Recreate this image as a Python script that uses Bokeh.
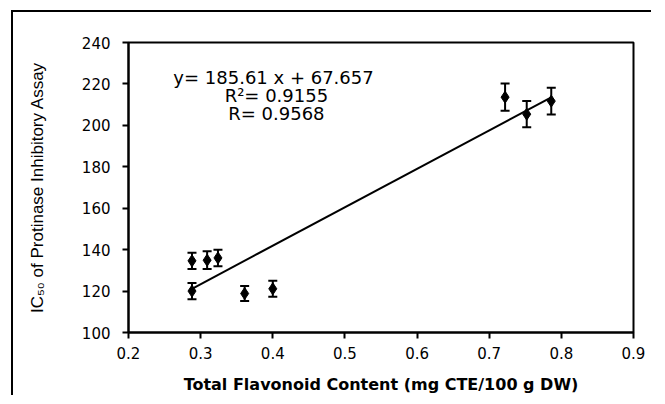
from bokeh.plotting import figure
from bokeh.models import ColumnDataSource, Whisker, FixedTicker, Label
from bokeh.embed import file_html
from bokeh.resources import INLINE

# Data
flavonoid = [0.288, 0.309, 0.324, 0.288, 0.361, 0.400, 0.722, 0.752, 0.786]
ic50 = [134.6, 134.9, 136.0, 120.0, 118.8, 121.1, 213.6, 205.4, 211.7]
err = [3.9, 4.3, 4.0, 3.9, 3.6, 3.9, 6.6, 6.3, 6.4]

slope = 185.61
intercept = 67.657
eq_lines = ["y= 185.61  x + 67.657", "R²= 0.9155", "R= 0.9568"]
x_ticks = [0.2, 0.3, 0.4, 0.5, 0.6, 0.7, 0.8, 0.9]
y_ticks = [100, 120, 140, 160, 180, 200, 220, 240]

src = ColumnDataSource(dict(
    x=flavonoid, y=ic50,
    lo=[v - e for v, e in zip(ic50, err)],
    hi=[v + e for v, e in zip(ic50, err)],
))

p = figure(width=640, height=385, x_range=(0.2, 0.9), y_range=(100, 240),
           output_backend="svg", toolbar_location=None,
           min_border_left=115, min_border_top=30, min_border_right=20, min_border_bottom=65)
p.styles = {"border-top": "2px solid black", "border-left": "2px solid black",
            "margin-left": "11px", "margin-top": "10px"}

p.xgrid.visible = False
p.ygrid.visible = False
p.outline_line_color = "black"
p.outline_line_width = 2

for ax in (p.xaxis[0], p.yaxis[0]):
    ax.axis_line_width = 2
    ax.axis_line_color = "black"
    ax.major_tick_line_width = 2
    ax.major_tick_line_color = "black"
    ax.major_tick_out = 6
    ax.major_tick_in = 0
    ax.minor_tick_line_color = None
    ax.major_label_text_font = "DejaVu Sans"
    ax.major_label_text_font_size = "15px"
    ax.major_label_text_color = "black"
    ax.axis_label_text_color = "black"

p.xaxis.ticker = FixedTicker(ticks=x_ticks)
p.yaxis.ticker = FixedTicker(ticks=y_ticks)
p.xaxis.major_label_standoff = 8
p.yaxis.major_label_standoff = 12

p.xaxis.axis_label = "Total Flavonoid Content (mg CTE/100 g DW)"
p.xaxis.axis_label_text_font = "DejaVu Sans"
p.xaxis.axis_label_text_font_style = "bold"
p.xaxis.axis_label_text_font_size = "16px"
p.xaxis.axis_label_standoff = 13

p.yaxis.axis_label = "IC₅₀ of Protinase Inhibitory Assay"
p.yaxis.axis_label_text_font = "Liberation Sans"
p.yaxis.axis_label_text_font_style = "normal"
p.yaxis.axis_label_text_font_size = "17px"
p.yaxis.axis_label_standoff = 32

# trend line
xs = [min(flavonoid), max(flavonoid)]
p.line(xs, [slope * v + intercept for v in xs], line_color="black", line_width=2)

w = Whisker(source=src, base="x", lower="lo", upper="hi", dimension="height",
            line_color="black", line_width=2)
w.upper_head.size = 9
w.lower_head.size = 9
w.upper_head.line_width = 2
w.lower_head.line_width = 2
p.add_layout(w)

p.scatter("x", "y", source=src, marker="diamond", size=12, color="black")

eq_y = [222.9, 214.2, 205.5]
for t, yy in zip(eq_lines, eq_y):
    p.add_layout(Label(x=0.405, y=yy, text=t, text_align="center", text_baseline="middle",
                       text_font="DejaVu Sans", text_font_size="18px", text_color="black"))

open("out.html", "w").write(file_html(p, INLINE))
